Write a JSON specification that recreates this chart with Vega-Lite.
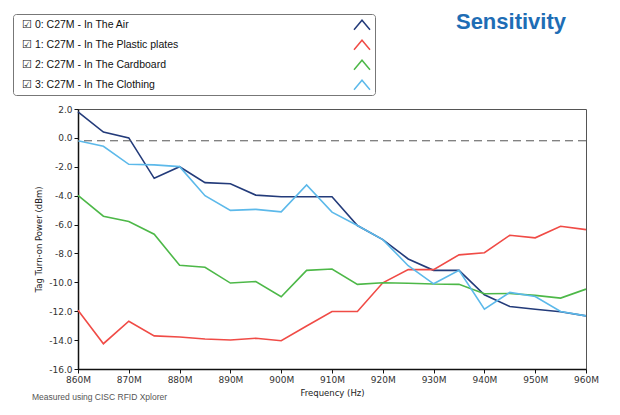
{
  "$schema": "https://vega.github.io/schema/vega-lite/v6.json",
  "width": 508,
  "height": 260,
  "autosize": {"type": "none"},
  "padding": {"left": 78, "top": 109, "right": 34, "bottom": 46},
  "background": "white",
  "title": {
    "text": "Sensitivity",
    "anchor": "end",
    "frame": "group",
    "orient": "top",
    "dx": -20,
    "offset": -20,
    "fontSize": 22,
    "font": "Liberation Sans",
    "fontWeight": "bold",
    "color": "#1e6db5"
  },
  "config": {
    "view": {"stroke": "#555", "strokeWidth": 1},
    "axis": {
      "labelFont": "DejaVu Sans",
      "labelFontSize": 9,
      "labelColor": "#333",
      "labelOverlap": false,
      "labelFlush": false,
      "titleFont": "DejaVu Sans",
      "titleFontSize": 8.5,
      "titleFontWeight": "normal",
      "titleColor": "#222",
      "domainColor": "#111",
      "domainWidth": 1.5,
      "tickColor": "#111",
      "tickSize": 4,
      "grid": false
    }
  },
  "data": {
    "values": [
      {"f": 860, "v": 1.8, "s": "0: C27M - In The Air"},
      {"f": 865, "v": 0.4, "s": "0: C27M - In The Air"},
      {"f": 870, "v": 0.0, "s": "0: C27M - In The Air"},
      {"f": 875, "v": -2.8, "s": "0: C27M - In The Air"},
      {"f": 880, "v": -2.0, "s": "0: C27M - In The Air"},
      {"f": 885, "v": -3.1, "s": "0: C27M - In The Air"},
      {"f": 890, "v": -3.17, "s": "0: C27M - In The Air"},
      {"f": 895, "v": -3.96, "s": "0: C27M - In The Air"},
      {"f": 900, "v": -4.07, "s": "0: C27M - In The Air"},
      {"f": 905, "v": -4.07, "s": "0: C27M - In The Air"},
      {"f": 910, "v": -4.07, "s": "0: C27M - In The Air"},
      {"f": 915, "v": -6.07, "s": "0: C27M - In The Air"},
      {"f": 920, "v": -7.04, "s": "0: C27M - In The Air"},
      {"f": 925, "v": -8.38, "s": "0: C27M - In The Air"},
      {"f": 930, "v": -9.17, "s": "0: C27M - In The Air"},
      {"f": 935, "v": -9.17, "s": "0: C27M - In The Air"},
      {"f": 940, "v": -10.86, "s": "0: C27M - In The Air"},
      {"f": 945, "v": -11.67, "s": "0: C27M - In The Air"},
      {"f": 950, "v": -11.86, "s": "0: C27M - In The Air"},
      {"f": 955, "v": -12.04, "s": "0: C27M - In The Air"},
      {"f": 960, "v": -12.32, "s": "0: C27M - In The Air"},

      {"f": 860, "v": -11.93, "s": "1: C27M - In The Plastic plates"},
      {"f": 865, "v": -14.25, "s": "1: C27M - In The Plastic plates"},
      {"f": 870, "v": -12.69, "s": "1: C27M - In The Plastic plates"},
      {"f": 875, "v": -13.71, "s": "1: C27M - In The Plastic plates"},
      {"f": 880, "v": -13.78, "s": "1: C27M - In The Plastic plates"},
      {"f": 885, "v": -13.92, "s": "1: C27M - In The Plastic plates"},
      {"f": 890, "v": -13.99, "s": "1: C27M - In The Plastic plates"},
      {"f": 895, "v": -13.87, "s": "1: C27M - In The Plastic plates"},
      {"f": 900, "v": -14.04, "s": "1: C27M - In The Plastic plates"},
      {"f": 905, "v": -13.02, "s": "1: C27M - In The Plastic plates"},
      {"f": 910, "v": -12.02, "s": "1: C27M - In The Plastic plates"},
      {"f": 915, "v": -12.02, "s": "1: C27M - In The Plastic plates"},
      {"f": 920, "v": -10.03, "s": "1: C27M - In The Plastic plates"},
      {"f": 925, "v": -9.12, "s": "1: C27M - In The Plastic plates"},
      {"f": 930, "v": -9.12, "s": "1: C27M - In The Plastic plates"},
      {"f": 935, "v": -8.1, "s": "1: C27M - In The Plastic plates"},
      {"f": 940, "v": -7.95, "s": "1: C27M - In The Plastic plates"},
      {"f": 945, "v": -6.74, "s": "1: C27M - In The Plastic plates"},
      {"f": 950, "v": -6.92, "s": "1: C27M - In The Plastic plates"},
      {"f": 955, "v": -6.12, "s": "1: C27M - In The Plastic plates"},
      {"f": 960, "v": -6.35, "s": "1: C27M - In The Plastic plates"},

      {"f": 860, "v": -3.98, "s": "2: C27M - In The Cardboard"},
      {"f": 865, "v": -5.42, "s": "2: C27M - In The Cardboard"},
      {"f": 870, "v": -5.79, "s": "2: C27M - In The Cardboard"},
      {"f": 875, "v": -6.67, "s": "2: C27M - In The Cardboard"},
      {"f": 880, "v": -8.82, "s": "2: C27M - In The Cardboard"},
      {"f": 885, "v": -8.96, "s": "2: C27M - In The Cardboard"},
      {"f": 890, "v": -10.05, "s": "2: C27M - In The Cardboard"},
      {"f": 895, "v": -9.94, "s": "2: C27M - In The Cardboard"},
      {"f": 900, "v": -11.0, "s": "2: C27M - In The Cardboard"},
      {"f": 905, "v": -9.17, "s": "2: C27M - In The Cardboard"},
      {"f": 910, "v": -9.08, "s": "2: C27M - In The Cardboard"},
      {"f": 915, "v": -10.14, "s": "2: C27M - In The Cardboard"},
      {"f": 920, "v": -10.03, "s": "2: C27M - In The Cardboard"},
      {"f": 925, "v": -10.06, "s": "2: C27M - In The Cardboard"},
      {"f": 930, "v": -10.12, "s": "2: C27M - In The Cardboard"},
      {"f": 935, "v": -10.14, "s": "2: C27M - In The Cardboard"},
      {"f": 940, "v": -10.79, "s": "2: C27M - In The Cardboard"},
      {"f": 945, "v": -10.77, "s": "2: C27M - In The Cardboard"},
      {"f": 950, "v": -10.9, "s": "2: C27M - In The Cardboard"},
      {"f": 955, "v": -11.09, "s": "2: C27M - In The Cardboard"},
      {"f": 960, "v": -10.47, "s": "2: C27M - In The Cardboard"},

      {"f": 860, "v": -0.2, "s": "3: C27M - In The Clothing"},
      {"f": 865, "v": -0.58, "s": "3: C27M - In The Clothing"},
      {"f": 870, "v": -1.83, "s": "3: C27M - In The Clothing"},
      {"f": 875, "v": -1.87, "s": "3: C27M - In The Clothing"},
      {"f": 880, "v": -1.99, "s": "3: C27M - In The Clothing"},
      {"f": 885, "v": -4.0, "s": "3: C27M - In The Clothing"},
      {"f": 890, "v": -5.02, "s": "3: C27M - In The Clothing"},
      {"f": 895, "v": -4.95, "s": "3: C27M - In The Clothing"},
      {"f": 900, "v": -5.12, "s": "3: C27M - In The Clothing"},
      {"f": 905, "v": -3.26, "s": "3: C27M - In The Clothing"},
      {"f": 910, "v": -5.14, "s": "3: C27M - In The Clothing"},
      {"f": 915, "v": -6.07, "s": "3: C27M - In The Clothing"},
      {"f": 920, "v": -7.04, "s": "3: C27M - In The Clothing"},
      {"f": 925, "v": -8.85, "s": "3: C27M - In The Clothing"},
      {"f": 930, "v": -10.1, "s": "3: C27M - In The Clothing"},
      {"f": 935, "v": -9.17, "s": "3: C27M - In The Clothing"},
      {"f": 940, "v": -11.86, "s": "3: C27M - In The Clothing"},
      {"f": 945, "v": -10.7, "s": "3: C27M - In The Clothing"},
      {"f": 950, "v": -10.98, "s": "3: C27M - In The Clothing"},
      {"f": 955, "v": -12.02, "s": "3: C27M - In The Clothing"},
      {"f": 960, "v": -12.32, "s": "3: C27M - In The Clothing"}
    ]
  },
  "layer": [
    {
      "mark": {"type": "line", "strokeWidth": 1.6},
      "encoding": {
        "x": {
          "field": "f",
          "type": "quantitative",
          "scale": {"domain": [860, 960], "nice": false, "zero": false},
          "axis": {
            "title": "Frequency (Hz)",
            "values": [860, 870, 880, 890, 900, 910, 920, 930, 940, 950, 960],
            "labelExpr": "datum.value + 'M'",
            "labelOverlap": false,
            "labelPadding": 2,
            "titlePadding": 4
          }
        },
        "y": {
          "field": "v",
          "type": "quantitative",
          "scale": {"domain": [-16, 2], "nice": false, "zero": false},
          "axis": {
            "title": "Tag Turn-on Power (dBm)",
            "values": [2, 0, -2, -4, -6, -8, -10, -12, -14, -16],
            "tickCount": 10,
            "labelExpr": "replace(format(datum.value, '.1f'), '\u2212', '-')",
            "labelOverlap": false,
            "labelPadding": 2,
            "titlePadding": 5
          }
        },
        "color": {
          "field": "s",
          "type": "nominal",
          "scale": {
            "domain": ["0: C27M - In The Air", "1: C27M - In The Plastic plates", "2: C27M - In The Cardboard", "3: C27M - In The Clothing"],
            "range": ["#233b7a", "#f04b46", "#4db848", "#5cb9ea"]
          },
          "legend": {
            "title": null,
            "orient": "none",
            "legendX": -65,
            "legendY": -95,
            "strokeColor": "#777",
            "fillColor": "white",
            "cornerRadius": 3,
            "padding": 2,
            "labelFont": "Liberation Sans",
            "labelFontSize": 10.5,
            "labelColor": "#111",
            "labelExpr": "'\u2611 ' + datum.label",
            "labelLimit": 400,
            "rowPadding": 3,
            "symbolType": "M-1,0.6L0,-0.6L1,0.6",
            "symbolSize": 256,
            "symbolStrokeWidth": 1.5,
            "symbolOffset": 338,
            "labelOffset": -349
          }
        }
      }
    },
    {
      "data": {"values": [{"v": -0.2}]},
      "mark": {"type": "rule", "strokeDash": [8, 5], "color": "#555", "strokeWidth": 1},
      "encoding": {
        "y": {
          "field": "v",
          "type": "quantitative",
          "axis": {
            "title": "Tag Turn-on Power (dBm)",
            "values": [2, 0, -2, -4, -6, -8, -10, -12, -14, -16],
            "tickCount": 10,
            "labelExpr": "replace(format(datum.value, '.1f'), '\u2212', '-')",
            "labelOverlap": false,
            "labelPadding": 2,
            "titlePadding": 5
          }
        }
      }
    },
    {
      "data": {"values": [{"note": "Measured using CISC RFID Xplorer"}]},
      "mark": {"type": "text", "align": "left", "baseline": "middle", "dx": -46, "dy": 28, "fontSize": 8.5, "font": "Liberation Sans", "color": "#555"},
      "encoding": {
        "x": {"datum": 860, "type": "quantitative"},
        "y": {"datum": -16, "type": "quantitative"},
        "text": {"field": "note", "type": "nominal"}
      }
    }
  ]
}
